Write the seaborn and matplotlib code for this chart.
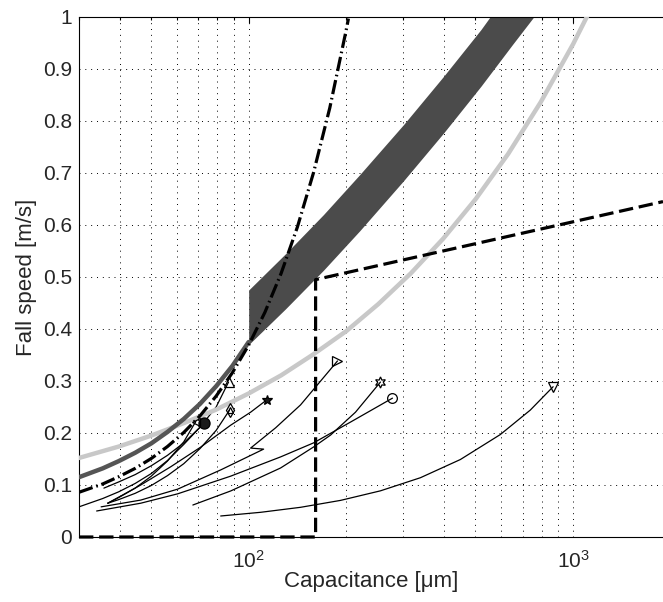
import numpy as np
import pandas as pd
import matplotlib
matplotlib.use("Agg")
import matplotlib.pyplot as plt
import seaborn as sns

# ---------------- data ----------------
# light grey reference curve
light_x = [30, 39.8, 50.1, 63.1, 79.4, 100, 126, 158, 200, 251, 316, 398, 501, 631, 794, 1000, 1122]
light_y = [0.152, 0.174, 0.195, 0.219, 0.245, 0.276, 0.311, 0.351, 0.396, 0.448, 0.507,
           0.574, 0.650, 0.737, 0.836, 0.948, 1.010]

# dark grey reference curve
dark_x = [30, 35.5, 39.8, 44.7, 50.1, 56.2, 63.1, 70.8, 79.4, 89.1, 100]
dark_y = [0.115, 0.132, 0.146, 0.162, 0.180, 0.202, 0.227, 0.256, 0.290, 0.329, 0.375]

# shaded band (upper / lower edge)
band_x = [100, 130, 170, 220, 300, 400, 520, 650, 800]
band_hi = [0.475, 0.545, 0.620, 0.697, 0.793, 0.887, 0.976, 1.06, 1.15]
band_lo = [0.370, 0.439, 0.513, 0.589, 0.685, 0.778, 0.867, 0.947, 1.02]

# dash-dot curve
dd_x = [30, 35.5, 39.8, 44.7, 50.1, 56.2, 63.1, 70.8, 79.4, 89.1, 100, 112.2, 125.9,
        141.3, 158.5, 177.8, 199.5, 203]
dd_y = [0.086, 0.102, 0.116, 0.132, 0.151, 0.174, 0.201, 0.233, 0.271, 0.316, 0.369,
        0.432, 0.507, 0.596, 0.701, 0.825, 0.973, 0.997]

# dashed threshold curve
dash_x = [30, 160.8, 160.8, 1892]
dash_y = [0.0, 0.0, 0.495, 0.645]

# particle trajectories (capacitance, fall speed)
traj = {
    "up":    ([35.8, 39.8, 44.7, 50.1, 56.2, 63.1, 70.8, 79.4, 86.7],
              [0.094, 0.106, 0.120, 0.137, 0.157, 0.181, 0.211, 0.250, 0.298]),
    "fcirc": ([30, 35.5, 39.8, 44.7, 50.1, 56.2, 63.1, 72.8],
              [0.058, 0.074, 0.087, 0.103, 0.122, 0.147, 0.178, 0.219]),
    "left":  ([36.8, 39.8, 44.7, 50.1, 56.2, 63.1, 68.7],
              [0.065, 0.076, 0.094, 0.117, 0.146, 0.183, 0.222]),
    "diam":  ([36.8, 39.8, 44.7, 50.1, 56.2, 63.1, 70.8, 79.4, 87.3],
              [0.065, 0.072, 0.084, 0.099, 0.118, 0.141, 0.170, 0.205, 0.244]),
    "right": ([35.1, 46.5, 60.4, 82.0, 111.2, 101.4, 121.1, 144.5, 160.8, 187.8],
              [0.058, 0.071, 0.092, 0.129, 0.169, 0.171, 0.210, 0.254, 0.2885, 0.3385]),
    "star":  ([36.8, 46.5, 57.5, 71.2, 88.0, 101.4, 113.6],
              [0.065, 0.100, 0.135, 0.173, 0.215, 0.240, 0.2635]),
    "ocirc": ([34.0, 46.5, 60.4, 88.0, 125.4, 158.5, 206, 277.4],
              [0.050, 0.065, 0.083, 0.117, 0.154, 0.181, 0.221, 0.267]),
    "hex":   ([67.3, 88.0, 125.4, 158.5, 178.8, 213.4, 254.8],
              [0.0615, 0.0885, 0.1327, 0.1731, 0.196, 0.240, 0.298]),
    "down":  ([82.0, 108.9, 144.5, 191.9, 254.8, 338.3, 449.2, 596.3, 737.6, 867.5],
              [0.0404, 0.0475, 0.0571, 0.0704, 0.0888, 0.114, 0.149, 0.197, 0.244, 0.289]),
}
end_style = {
    "up":    [dict(marker="^", mfc="none", ms=7)],
    "fcirc": [dict(marker="o", mfc="k", ms=8)],
    "left":  [dict(marker="<", mfc="none", ms=6)],
    "diam":  [dict(marker="d", mfc="none", ms=7), dict(marker="^", mfc="none", ms=5)],
    "right": [dict(marker=">", mfc="none", ms=7)],
    "star":  [dict(marker="*", mfc="k", ms=7)],
    "ocirc": [dict(marker="o", mfc="none", ms=7)],
    "hex":   [dict(marker=(6, 1, 0), mfc="none", ms=8)],
    "down":  [dict(marker="v", mfc="none", ms=7)],
}

y_ticks = [0, 0.1, 0.2, 0.3, 0.4, 0.5, 0.6, 0.7, 0.8, 0.9, 1]
y_ticklabels = ["0", "0.1", "0.2", "0.3", "0.4", "0.5", "0.6", "0.7", "0.8", "0.9", "1"]

# ---------------- styling ----------------
sns.set_theme(style="white")
plt.rcParams["font.family"] = ["Liberation Sans", "DejaVu Sans"]
plt.rcParams["mathtext.fontset"] = "custom"
plt.rcParams["mathtext.rm"] = "Liberation Sans"
plt.rcParams["mathtext.it"] = "Liberation Sans:italic"
plt.rcParams["xtick.direction"] = "in"
plt.rcParams["ytick.direction"] = "in"

fig = plt.figure(figsize=(6.63, 6.02), dpi=100)
ax = fig.add_axes([79 / 663, 65 / 602, (663 - 79) / 663, 520 / 602])

# trajectories
rows = []
for name, (xs, ys) in traj.items():
    for i, (xv, yv) in enumerate(zip(xs, ys)):
        rows.append({"id": name, "order": i, "x": xv, "y": yv})
df = pd.DataFrame(rows)
sns.lineplot(data=df, x="x", y="y", units="id", estimator=None, sort=False,
             color="black", lw=0.9, ax=ax, zorder=3, legend=False)
for name, (xs, ys) in traj.items():
    for st in end_style[name]:
        ax.plot(xs[-1], ys[-1], linestyle="none", marker=st["marker"], ms=st["ms"],
                mfc=st["mfc"], mec="black", mew=0.9, zorder=6)

# band
ax.fill_between(band_x, band_lo, band_hi, color="#4b4b4b", lw=0, zorder=2)

# reference curves
sns.lineplot(x=light_x, y=light_y, color="#c8c8c8", lw=3.2, ax=ax, zorder=4,
             sort=False, estimator=None)
sns.lineplot(x=dark_x, y=dark_y, color="#555555", lw=3.2, ax=ax, zorder=4,
             sort=False, estimator=None)
sns.lineplot(x=dd_x, y=dd_y, color="black", lw=2.3, ax=ax, zorder=5, sort=False,
             estimator=None, linestyle=(0, (4.5, 1.2, 0.5, 1.2)))
sns.lineplot(x=dash_x, y=dash_y, color="black", lw=2.3, ax=ax, zorder=5, sort=False,
             estimator=None, linestyle=(0, (4.5, 1.8)))
ax.lines[-1].set_clip_on(False)

# axes
ax.set_xscale("log")
ax.set_xlim(30, 1892)
ax.set_ylim(0, 1)
ax.set_yticks(y_ticks)
ax.set_yticklabels(y_ticklabels)
ax.set_xticks([100, 1000])
ax.set_xticklabels([r"$10^2$", r"$10^3$"])
ax.xaxis.set_minor_locator(matplotlib.ticker.LogLocator(base=10, subs=np.arange(2, 10)))
ax.xaxis.set_minor_formatter(matplotlib.ticker.NullFormatter())

grid_kw = dict(color="black", lw=0.7, linestyle=(0, (1, 5)))
ax.grid(True, which="major", axis="both", **grid_kw)
ax.grid(True, which="minor", axis="x", **grid_kw)
ax.set_axisbelow(True)

ax.tick_params(axis="both", which="both", top=True, right=False, length=4, width=0.8,
               color="black", labelsize=15, pad=5)
ax.tick_params(axis="x", which="both", pad=9)
ax.tick_params(axis="x", which="minor", length=2)
for s in ["left", "bottom", "top"]:
    ax.spines[s].set_color("black")
    ax.spines[s].set_linewidth(0.8)
ax.spines["right"].set_visible(False)

ax.set_xlabel("Capacitance [μm]", fontsize=16, labelpad=0)
ax.set_ylabel("Fall speed [m/s]", fontsize=16, labelpad=4)

fig.savefig("out.png", dpi=100)
